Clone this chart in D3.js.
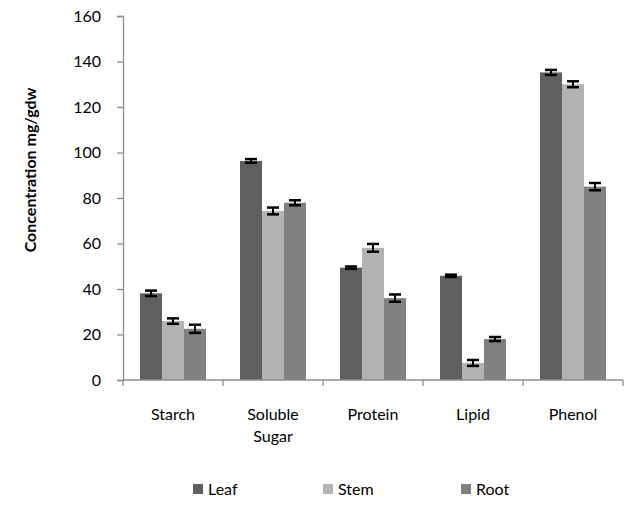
<!DOCTYPE html>
<html>
<head>
<meta charset="utf-8">
<script src="https://cdn.jsdelivr.net/npm/d3@7"></script>
<style>
  body { margin: 0; background: #fff; }
  text { font-family: Lato, "Open Sans", sans-serif; fill: #000; }
</style>
</head>
<body>
<script>
const categories = ["Starch", "Soluble Sugar", "Protein", "Lipid", "Phenol"];
const categoryLines = [["Starch"], ["Soluble", "Sugar"], ["Protein"], ["Lipid"], ["Phenol"]];
const seriesNames = ["Leaf", "Stem", "Root"];
const seriesColors = ["#5f5f5f", "#b3b3b3", "#808080"];
const leafValues = [38.1, 96.3, 49.4, 45.8, 135.2];
const stemValues = [25.9, 74.3, 58.1, 7.5, 130.0];
const rootValues = [22.5, 77.9, 36.0, 18.0, 85.0];
const leafErrors = [1.2, 0.8, 0.5, 0.5, 1.1];
const stemErrors = [1.2, 1.5, 1.7, 1.3, 1.3];
const rootErrors = [1.8, 1.1, 1.6, 0.9, 1.6];
const yTicks = [0, 20, 40, 60, 80, 100, 120, 140, 160];

const w = 624, h = 508;
const plotLeft = 123, plotRight = 623, plotTop = 16, plotBottom = 380;

const values = [leafValues, stemValues, rootValues];
const errors = [leafErrors, stemErrors, rootErrors];

const svg = d3.select("body").append("svg")
  .attr("width", w)
  .attr("height", h);

const x = d3.scaleBand()
  .domain(categories)
  .range([plotLeft, plotRight])
  .paddingInner(0.34)
  .paddingOuter(0.17);

const xSub = d3.scaleBand()
  .domain(seriesNames)
  .range([0, x.bandwidth()]);

const y = d3.scaleLinear()
  .domain([0, 160])
  .range([plotBottom, plotTop]);

// bars
const data = [];
categories.forEach((c, i) => {
  seriesNames.forEach((s, j) => {
    data.push({ cat: c, series: s, color: seriesColors[j], value: values[j][i], err: errors[j][i] });
  });
});

svg.append("g").selectAll("rect")
  .data(data)
  .enter()
  .append("rect")
  .attr("x", d => x(d.cat) + xSub(d.series))
  .attr("y", d => y(d.value))
  .attr("width", xSub.bandwidth())
  .attr("height", d => y(0) - y(d.value))
  .attr("fill", d => d.color);

// error bars
const eb = svg.append("g").attr("stroke", "#000");
data.forEach(d => {
  const cx = x(d.cat) + xSub(d.series) + xSub.bandwidth() / 2;
  eb.append("line")
    .attr("x1", cx).attr("x2", cx)
    .attr("y1", y(d.value + d.err)).attr("y2", y(d.value - d.err))
    .attr("stroke-width", 2);
  [d.value + d.err, d.value - d.err].forEach(v => {
    eb.append("line")
      .attr("x1", cx - 6).attr("x2", cx + 6)
      .attr("y1", y(v)).attr("y2", y(v))
      .attr("stroke-width", 2.5);
  });
});

// y axis
const yAxis = d3.axisLeft(y).tickValues(yTicks).tickSize(6).tickPadding(16);
const gy = svg.append("g")
  .attr("transform", `translate(${plotLeft},0)`)
  .call(yAxis);
gy.select(".domain").attr("stroke", "#8c8c8c").attr("stroke-width", 1.3);
gy.selectAll(".tick line").attr("stroke", "#8c8c8c").attr("stroke-width", 1.3);
gy.selectAll(".tick text").style("font-size", "16px").attr("fill", "#000");

// x axis
const gx = svg.append("g");
gx.append("line")
  .attr("x1", plotLeft).attr("x2", plotRight)
  .attr("y1", y(0)).attr("y2", y(0))
  .attr("stroke", "#8c8c8c").attr("stroke-width", 1.3);
const half = (x.step() - x.bandwidth()) / 2;
const tickXs = categories.map(c => x(c) - half).concat([x(categories[categories.length - 1]) + x.bandwidth() + half]);
tickXs.forEach(tx => {
  gx.append("line")
    .attr("x1", tx).attr("x2", tx)
    .attr("y1", y(0)).attr("y2", y(0) + 6)
    .attr("stroke", "#8c8c8c").attr("stroke-width", 1.3);
});
categories.forEach((c, i) => {
  const t = gx.append("text")
    .attr("x", x(c) + x.bandwidth() / 2)
    .attr("y", 420)
    .attr("text-anchor", "middle")
    .style("font-size", "16px");
  categoryLines[i].forEach((line, k) => {
    t.append("tspan")
      .attr("x", x(c) + x.bandwidth() / 2)
      .attr("dy", k === 0 ? 0 : 22)
      .text(line);
  });
});

// y title
svg.append("text")
  .attr("transform", "rotate(-90)")
  .attr("x", -170)
  .attr("y", 36)
  .attr("text-anchor", "middle")
  .style("font-size", "16px")
  .style("font-weight", "bold")
  .text("Concentration mg/gdw");

// legend
const legendX = [193, 323, 461];
const legend = svg.append("g");
seriesNames.forEach((s, i) => {
  legend.append("rect")
    .attr("x", legendX[i])
    .attr("y", 484)
    .attr("width", 10)
    .attr("height", 10)
    .attr("fill", seriesColors[i]);
  legend.append("text")
    .attr("x", legendX[i] + 15)
    .attr("y", 495)
    .style("font-size", "16px")
    .text(s);
});
</script>
</body>
</html>
